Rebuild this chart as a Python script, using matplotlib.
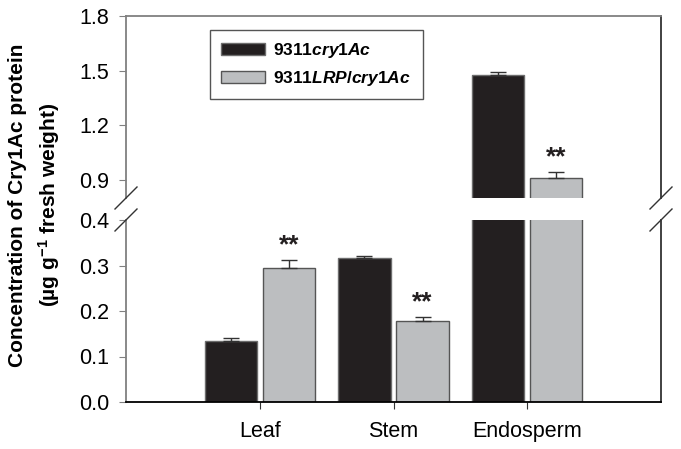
import numpy as np
import matplotlib
matplotlib.use('Agg')
import matplotlib.pyplot as plt
from matplotlib.lines import Line2D

plt.rcParams['font.family'] = 'Liberation Sans'
plt.rcParams['mathtext.fontset'] = 'custom'
plt.rcParams['mathtext.rm'] = 'Liberation Sans:bold'
plt.rcParams['mathtext.it'] = 'Liberation Sans:italic:bold'
plt.rcParams['mathtext.bf'] = 'Liberation Sans:bold'

# dati
tissues = ['Leaf', 'Stem', 'Endosperm']
ctrl = [0.133, 0.316, 1.476]
ctrl_err = [0.008, 0.005, 0.014]
lrp = [0.294, 0.178, 0.908]
lrp_err = [0.017, 0.008, 0.037]
lrp_signif = ['**', '**', '**']
labels = ['9311$cry1Ac$', '9311$LRP$/$cry1Ac$']

W, H = 681, 449
fig = plt.figure(figsize=(W / 100, H / 100), dpi=100)

# posizioni in pixel degli assi (spezzati)
left, right = 126, 661
lo_bot, lo_top = 402, 220
up_bot, up_top = 198, 16

ax_lo = fig.add_axes([left / W, 1 - lo_bot / H, (right - left) / W, (lo_bot - lo_top) / H])
ax_up = fig.add_axes([left / W, 1 - up_bot / H, (right - left) / W, (up_bot - up_top) / H])

x = np.arange(1, len(tissues) + 1)
w = 0.39
off = 0.217
c_black = '#231f20'
c_gray = '#bcbec0'

for ax in (ax_lo, ax_up):
    ax.bar(x - off, ctrl, w, color=c_black, edgecolor='#6d6d6d', linewidth=1,
           yerr=[[0] * len(ctrl), ctrl_err], capsize=6,
           error_kw=dict(ecolor='#333333', elinewidth=1, capthick=1), zorder=2)
    ax.bar(x + off, lrp, w, color=c_gray, edgecolor='#555555', linewidth=1,
           yerr=[[0] * len(lrp), lrp_err], capsize=6,
           error_kw=dict(ecolor='#333333', elinewidth=1, capthick=1), zorder=2)
    ax.set_xlim(0, 4)

ax_lo.set_ylim(0, 0.4)
ax_up.set_ylim(0.8, 1.8)
ax_lo.set_yticks([0.0, 0.1, 0.2, 0.3, 0.4])
ax_up.set_yticks([0.9, 1.2, 1.5, 1.8])
ax_lo.set_yticklabels(['0.0', '0.1', '0.2', '0.3', '0.4'])
ax_up.set_yticklabels(['0.9', '1.2', '1.5', '1.8'])

ax_lo.set_xticks(x)
ax_lo.set_xticklabels(tissues, fontsize=15.5)
ax_lo.tick_params(axis='x', length=5, pad=9, color='#333333')
ax_up.set_xticks([])

for ax in (ax_lo, ax_up):
    ax.tick_params(axis='y', labelsize=15.5, length=5, pad=7, color='#808080')
    ax.spines['left'].set_color('#808080')
    ax.spines['left'].set_linewidth(1.3)
    ax.spines['right'].set_color('#333333')
    ax.spines['right'].set_linewidth(1.3)

ax_lo.spines['top'].set_visible(False)
ax_lo.spines['bottom'].set_color('black')
ax_lo.spines['bottom'].set_linewidth(1.3)
ax_up.spines['bottom'].set_visible(False)
ax_up.spines['top'].set_color('#808080')
ax_up.spines['top'].set_linewidth(1.3)

# asterischi
for i in range(len(tissues)):
    top = lrp[i] + lrp_err[i]
    ax = ax_up if top > 0.4 else ax_lo
    ax.annotate(lrp_signif[i], (x[i] + off, top), xytext=(0, 2), textcoords='offset points',
                ha='center', va='bottom', fontsize=19, fontweight='bold', color='#231f20')

# segni di interruzione dell'asse
for xp in (left, right):
    for yp in (up_bot, lo_top):
        fig.add_artist(Line2D([(xp - 11) / W, (xp + 11) / W],
                              [1 - (yp + 11) / H, 1 - (yp - 11) / H],
                              color='#333333', linewidth=1))

# legenda
leg = ax_up.legend(labels, loc='upper left', bbox_to_anchor=(210 / W, 1 - 30 / H),
                   bbox_transform=fig.transFigure, fancybox=False, edgecolor='#555555',
                   framealpha=1, handlelength=2.5, handleheight=0.65, handletextpad=0.5,
                   borderpad=0.65, borderaxespad=0, labelspacing=0.5,
                   prop={'weight': 'bold', 'size': 12.5})
leg.get_frame().set_linewidth(1)

fig.text(35 / W, 1 - 205 / H,
         'Concentration of Cry1Ac protein\n(\u00b5g g$^{-1}$ fresh weight)',
         rotation=90, ha='center', va='center', fontsize=15, fontweight='bold',
         linespacing=1.45, multialignment='center')

fig.savefig('out.png', dpi=100)
